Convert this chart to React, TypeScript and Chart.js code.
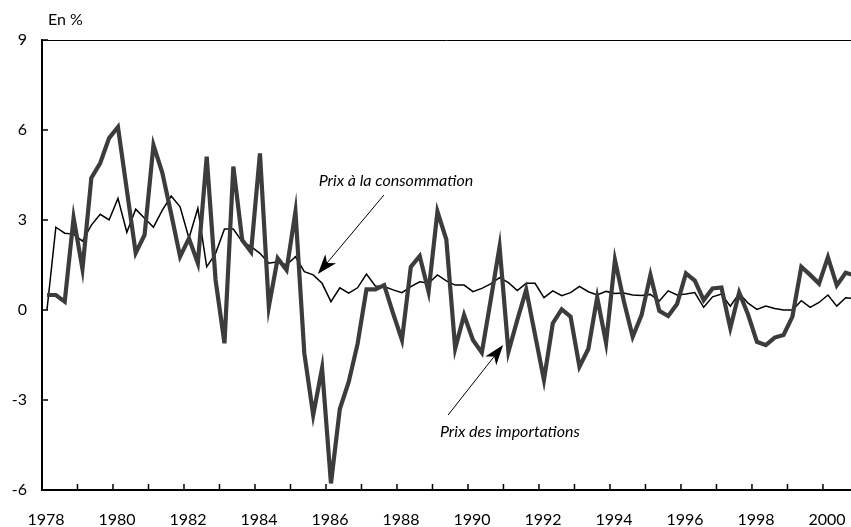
import React, { useEffect, useRef } from "react";
import { Chart, registerables } from "chart.js";

Chart.register(...registerables);

// Quarterly series, 1978 Q1 onwards (percent change)
const START_YEAR = 1978;
const QUARTER_OFFSET = 0.14;

const importPrices = [
  0.5, 0.5, 0.28, 3.07, 1.37, 4.4, 4.9, 5.73, 6.1, 4.0,
  1.9, 2.5, 5.5, 4.57, 3.2, 1.78, 2.39, 1.56, 5.11, 1.0,
  -1.11, 4.78, 2.33, 1.94, 5.22, 0.11, 1.72, 1.33, 3.28, -1.44,
  -3.5, -1.94, -5.78, -3.3, -2.4, -1.13, 0.69, 0.69, 0.83, -0.11,
  -1.0, 1.44, 1.8, 0.61, 3.28, 2.35, -1.28, -0.17, -1.0, -1.42,
  0.33, 2.11, -1.39, -0.33, 0.67, -0.83, -2.33, -0.44, 0.02, -0.22,
  -1.89, -1.3, 0.42, -1.1, 1.67, 0.3, -0.89, -0.17, 1.17, -0.03,
  -0.2, 0.2, 1.22, 0.98, 0.33, 0.72, 0.75, -0.6, 0.58, -0.15,
  -1.06, -1.17, -0.92, -0.83, -0.22, 1.44, 1.17, 0.88, 1.76, 0.82,
  1.24, 1.15,
];

const consumerPrices = [
  0, 2.76, 2.56, 2.53, 2.3, 2.83, 3.19, 3.0, 3.72, 2.59,
  3.36, 3.06, 2.76, 3.33, 3.8, 3.44, 2.39, 3.39, 1.44, 1.89,
  2.7, 2.7, 2.28, 2.11, 1.89, 1.56, 1.61, 1.5, 1.78, 1.28,
  1.17, 0.89, 0.28, 0.74, 0.56, 0.74, 1.2, 0.8, 0.78, 0.67,
  0.58, 0.78, 0.94, 0.89, 1.17, 0.97, 0.83, 0.83, 0.61, 0.72,
  0.87, 1.08, 0.91, 0.65, 0.89, 0.89, 0.41, 0.64, 0.48, 0.58,
  0.79, 0.61, 0.5, 0.62, 0.55, 0.57, 0.5, 0.48, 0.52, 0.3,
  0.64, 0.5, 0.53, 0.58, 0.09, 0.44, 0.53, 0.13, 0.55, 0.23,
  0.02, 0.13, 0.05, 0.0, 0.0, 0.31, 0.09, 0.25, 0.5, 0.13,
  0.41, 0.38,
];

const yearTicks = Array.from({ length: 23 }, (_, i) => START_YEAR + i); // 1978..2000
const yTicks = [-6, -3, 0, 3, 6, 9];
const X_MIN = 1978;
const X_MAX = 2000.79;

const unitLabel = "En %";
const consumerLabel = "Prix à la consommation";
const importLabel = "Prix des importations";

const FONT = "Lato, 'Open Sans', sans-serif";

const toPoints = (arr: number[]) =>
  arr.map((v, i) => ({ x: START_YEAR + QUARTER_OFFSET + i * 0.25, y: v }));

function drawArrow(ctx: CanvasRenderingContext2D, x1: number, y1: number, x2: number, y2: number) {
  const ang = Math.atan2(y2 - y1, x2 - x1);
  const headLen = 20;
  const headW = 7;
  ctx.save();
  ctx.strokeStyle = "#000";
  ctx.fillStyle = "#000";
  ctx.lineWidth = 1;
  ctx.beginPath();
  ctx.moveTo(x1, y1);
  ctx.lineTo(x2 - Math.cos(ang) * headLen * 0.7, y2 - Math.sin(ang) * headLen * 0.7);
  ctx.stroke();
  const bx = x2 - Math.cos(ang) * headLen;
  const by = y2 - Math.sin(ang) * headLen;
  const nx = x2 - Math.cos(ang) * headLen * 0.72;
  const ny = y2 - Math.sin(ang) * headLen * 0.72;
  const px = -Math.sin(ang);
  const py = Math.cos(ang);
  ctx.beginPath();
  ctx.moveTo(x2, y2);
  ctx.lineTo(bx + px * headW, by + py * headW);
  ctx.lineTo(nx, ny);
  ctx.lineTo(bx - px * headW, by - py * headW);
  ctx.closePath();
  ctx.fill();
  ctx.restore();
}

const decorPlugin = {
  id: "decor",
  afterDraw(chart: any) {
    const { ctx, chartArea, scales } = chart;
    const xs = scales.x;
    const ys = scales.y;
    ctx.save();
    // top frame line
    ctx.strokeStyle = "#000";
    ctx.lineWidth = 1;
    ctx.beginPath();
    ctx.moveTo(chartArea.left, chartArea.top + 0.5);
    ctx.lineTo(chartArea.right, chartArea.top + 0.5);
    ctx.stroke();
    // inward y ticks
    ctx.lineWidth = 1.5;
    yTicks.forEach((v) => {
      const py = ys.getPixelForValue(v);
      ctx.beginPath();
      ctx.moveTo(chartArea.left, py);
      ctx.lineTo(chartArea.left + 6, py);
      ctx.stroke();
    });
    // inward x ticks
    yearTicks.forEach((yr) => {
      const px = xs.getPixelForValue(yr);
      ctx.beginPath();
      ctx.moveTo(px, chartArea.bottom);
      ctx.lineTo(px, chartArea.bottom - 6);
      ctx.stroke();
    });
    // unit label
    ctx.fillStyle = "#000";
    ctx.font = `16px ${FONT}`;
    ctx.textAlign = "left";
    ctx.textBaseline = "alphabetic";
    ctx.fillText(unitLabel, 48, 25);

    // annotations
    ctx.font = `italic 16px ${FONT}`;
    ctx.textAlign = "center";
    ctx.textBaseline = "middle";
    ctx.fillText(consumerLabel, xs.getPixelForValue(1987.97), ys.getPixelForValue(4.3));
    drawArrow(
      ctx,
      xs.getPixelForValue(1987.63), ys.getPixelForValue(3.83),
      xs.getPixelForValue(1985.77), ys.getPixelForValue(1.2)
    );
    ctx.textAlign = "left";
    ctx.fillText(importLabel, xs.getPixelForValue(1989.21), ys.getPixelForValue(-4.07));
    drawArrow(
      ctx,
      xs.getPixelForValue(1989.44), ys.getPixelForValue(-3.5),
      xs.getPixelForValue(1990.99), ys.getPixelForValue(-1.17)
    );
    ctx.restore();
  },
};

export default function App() {
  const canvasRef = useRef<HTMLCanvasElement | null>(null);

  useEffect(() => {
    document.body.style.margin = "0";
    const canvas = canvasRef.current;
    if (!canvas) return;
    const chart = new Chart(canvas, {
      type: "line",
      data: {
        datasets: [
          {
            label: importLabel,
            data: toPoints(importPrices),
            borderColor: "#3c3c3c",
            borderWidth: 4.2,
            pointRadius: 0,
            tension: 0,
            borderJoinStyle: "miter",
          },
          {
            label: consumerLabel,
            data: toPoints(consumerPrices),
            borderColor: "#000000",
            borderWidth: 1.5,
            pointRadius: 0,
            tension: 0,
          },
        ],
      },
      options: {
        animation: false,
        responsive: false,
        devicePixelRatio: 1,
        layout: { padding: { top: 40, right: 0, left: 0, bottom: 0 } },
        plugins: {
          legend: { display: false },
          tooltip: { enabled: false },
          title: { display: false },
        },
        scales: {
          x: {
            type: "linear",
            min: X_MIN,
            max: X_MAX,
            afterBuildTicks: (scale: any) => {
              scale.ticks = yearTicks.map((v) => ({ value: v }));
            },
            afterFit: (scale: any) => {
              scale.height = 37;
              scale.paddingLeft = 0;
              scale.paddingRight = 0;
            },
            ticks: {
              autoSkip: false,
              maxRotation: 0,
              padding: 20,
              labelOffset: 4,
              color: "#000",
              font: { family: FONT, size: 16 },
              callback: (v: any) => (Number(v) % 2 === 0 ? String(v) : ""),
            },
            grid: { drawOnChartArea: false, drawTicks: false },
            border: { display: true, color: "#000", width: 2 },
          },
          y: {
            min: -6,
            max: 9,
            afterBuildTicks: (scale: any) => {
              scale.ticks = yTicks.map((v) => ({ value: v }));
            },
            afterFit: (scale: any) => {
              scale.width = 42;
              scale.paddingTop = 0;
              scale.paddingBottom = 0;
            },
            ticks: {
              padding: 15,
              color: "#000",
              font: { family: FONT, size: 16 },
              callback: (v: any) => String(v),
            },
            grid: { drawOnChartArea: false, drawTicks: false },
            border: { display: true, color: "#000", width: 2 },
          },
        },
      },
      plugins: [decorPlugin],
    });
    return () => chart.destroy();
  }, []);

  return (
    <div style={{ width: 851, height: 527 }}>
      <canvas ref={canvasRef} width={851} height={527} />
    </div>
  );
}
